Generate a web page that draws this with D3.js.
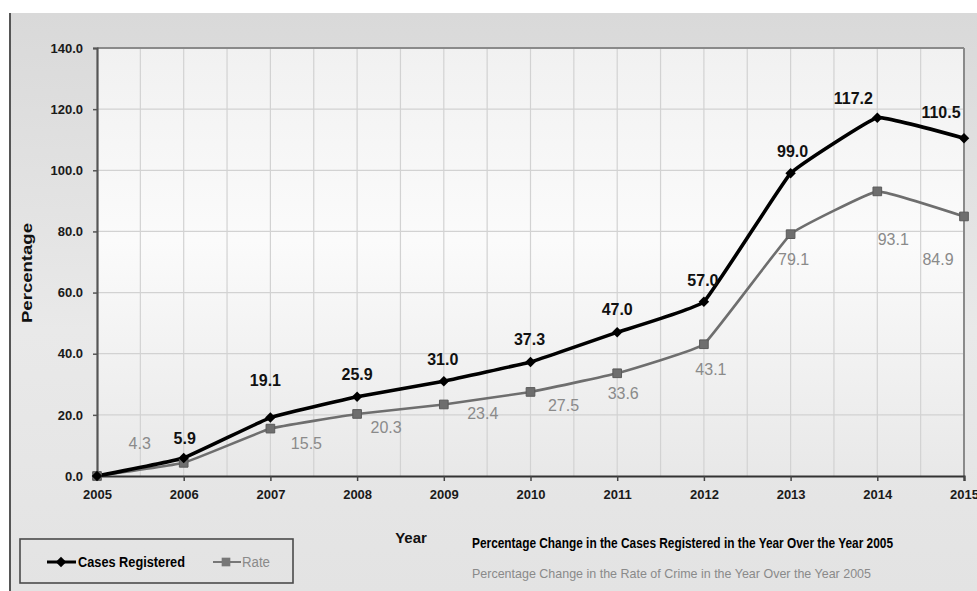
<!DOCTYPE html>
<html>
<head>
<meta charset="utf-8">
<script src="https://cdn.jsdelivr.net/npm/d3@7/dist/d3.min.js"></script>
<style>
  html, body { margin: 0; padding: 0; background: #ffffff; }
  svg { display: block; font-family: "Liberation Sans", Arial, sans-serif; }
</style>
</head>
<body>
<svg id="chart" width="977" height="591"></svg>
<script>
// Percentage change over 2005, by year
const years = [2005, 2006, 2007, 2008, 2009, 2010, 2011, 2012, 2013, 2014, 2015];
const casesRegistered = [0.0, 5.9, 19.1, 25.9, 31.0, 37.3, 47.0, 57.0, 99.0, 117.2, 110.5];
const crimeRate = [0.0, 4.3, 15.5, 20.3, 23.4, 27.5, 33.6, 43.1, 79.1, 93.1, 84.9];
const yTicks = [0, 20, 40, 60, 80, 100, 120, 140];
const seriesNames = ["Cases Registered", "Rate"];
const captions = [
  "Percentage Change in the Cases Registered in the Year Over the Year 2005",
  "Percentage Change in the Rate of Crime in the Year Over the Year 2005"
];

const svg = d3.select("#chart");
const W = 977, H = 591;
const plot = { left: 97, right: 964, top: 48, bottom: 476 };

const x = d3.scaleLinear().domain([2005, 2015]).range([plot.left, plot.right]);
const y = d3.scaleLinear().domain([0, 140]).range([plot.bottom, plot.top]);

// gradients
const defs = svg.append("defs");
const outerGrad = defs.append("linearGradient").attr("id", "outerBg")
  .attr("x1", 0).attr("y1", 0).attr("x2", 0).attr("y2", 1);
outerGrad.append("stop").attr("offset", "0%").attr("stop-color", "#d9d9d9");
outerGrad.append("stop").attr("offset", "55%").attr("stop-color", "#e9e9e9");
outerGrad.append("stop").attr("offset", "100%").attr("stop-color", "#e3e3e3");
const plotGrad = defs.append("linearGradient").attr("id", "plotBg")
  .attr("x1", 0).attr("y1", 0).attr("x2", 0).attr("y2", 1);
plotGrad.append("stop").attr("offset", "0%").attr("stop-color", "#f1f1f1");
plotGrad.append("stop").attr("offset", "45%").attr("stop-color", "#fbfbfb");
plotGrad.append("stop").attr("offset", "100%").attr("stop-color", "#e8e8e8");

// page background
svg.append("rect").attr("x", 0).attr("y", 0).attr("width", W).attr("height", H).attr("fill", "#ffffff");
svg.append("rect").attr("x", 10).attr("y", 13).attr("width", W - 10).attr("height", H - 13)
  .attr("fill", "url(#outerBg)");
svg.append("line").attr("x1", 10).attr("x2", 10).attr("y1", 13).attr("y2", H)
  .attr("stroke", "#555").attr("stroke-width", 2);

// plot area
svg.append("rect")
  .attr("x", plot.left).attr("y", plot.top)
  .attr("width", plot.right - plot.left).attr("height", plot.bottom - plot.top)
  .attr("fill", "url(#plotBg)");

// grid: vertical every half year, horizontal at each tick
const grid = svg.append("g").attr("stroke", "#d2d2d2").attr("stroke-width", 1.2);
d3.range(2005.5, 2015, 0.5).forEach(v => {
  grid.append("line").attr("x1", x(v)).attr("x2", x(v))
    .attr("y1", plot.top).attr("y2", plot.bottom);
});
yTicks.slice(1, -1).forEach(v => {
  grid.append("line").attr("x1", plot.left).attr("x2", plot.right)
    .attr("y1", y(v)).attr("y2", y(v));
});

// frame (top and right)
svg.append("line").attr("x1", plot.left).attr("x2", plot.right)
  .attr("y1", plot.top).attr("y2", plot.top).attr("stroke", "#8a8a8a").attr("stroke-width", 2);
svg.append("line").attr("x1", plot.right).attr("x2", plot.right)
  .attr("y1", plot.top).attr("y2", plot.bottom).attr("stroke", "#8a8a8a").attr("stroke-width", 2);

// y axis
const yAxis = svg.append("g").attr("transform", `translate(${plot.left},0)`)
  .call(d3.axisLeft(y).tickValues(yTicks).tickFormat(d3.format(".1f")).tickSize(4).tickPadding(10));
yAxis.select(".domain").attr("stroke", "#555").attr("stroke-width", 2.2);
yAxis.selectAll(".tick line").attr("stroke", "#555").attr("stroke-width", 1.5);
yAxis.selectAll(".tick text")
  .attr("fill", "#1a1a1a").attr("font-size", 13).attr("font-weight", "bold")
  .attr("font-family", "'Liberation Sans', Arial, sans-serif");

// x axis
const xAxis = svg.append("g").attr("transform", `translate(0,${plot.bottom})`)
  .call(d3.axisBottom(x).tickValues(years).tickFormat(d3.format("d")).tickSize(5).tickPadding(9));
xAxis.select(".domain").attr("stroke", "#333").attr("stroke-width", 2.2);
xAxis.selectAll(".tick line").attr("stroke", "#444").attr("stroke-width", 1.5);
xAxis.selectAll(".tick text")
  .attr("fill", "#1a1a1a").attr("font-size", 13).attr("font-weight", "bold")
  .attr("font-family", "'Liberation Sans', Arial, sans-serif");

// axis titles
svg.append("text")
  .attr("transform", `translate(32,${273}) rotate(-90)`)
  .attr("text-anchor", "middle")
  .attr("font-size", 14).attr("font-weight", "bold").attr("fill", "#111")
  .attr("textLength", 100).attr("lengthAdjust", "spacingAndGlyphs")
  .text("Percentage");
svg.append("text")
  .attr("x", 411).attr("y", 543)
  .attr("text-anchor", "middle")
  .attr("font-size", 15).attr("font-weight", "bold").attr("fill", "#111")
  .text("Year");

// series (lightly smoothed lines)
const pts = (vals) => vals.map((v, i) => [x(years[i]), y(v)]);
const lineGen = d3.line().curve(d3.curveCardinal.tension(0.75));

svg.append("path").datum(pts(crimeRate))
  .attr("d", lineGen).attr("fill", "none")
  .attr("stroke", "#6e6e6e").attr("stroke-width", 2.6);
svg.append("path").datum(pts(casesRegistered))
  .attr("d", lineGen).attr("fill", "none")
  .attr("stroke", "#000").attr("stroke-width", 3.6);

const diamond = d3.symbol().type(d3.symbolDiamond2).size(70);
const square = d3.symbol().type(d3.symbolSquare).size(75);

svg.append("g").selectAll("path").data(pts(crimeRate)).join("path")
  .attr("d", square).attr("transform", d => `translate(${d[0]},${d[1]})`)
  .attr("fill", "#6e6e6e").attr("stroke", "#5a5a5a").attr("stroke-width", 1);
svg.append("g").selectAll("path").data(pts(casesRegistered)).join("path")
  .attr("d", diamond).attr("transform", d => `translate(${d[0]},${d[1]})`)
  .attr("fill", "#000");

// data labels (first point is the 0.0 base year, left unlabeled)
const casesNudge = [null, [1, -20], [-5, -37], [0, -22], [-1, -22], [-1, -23],
  [0, -23], [-1, -21], [2, -22], [-24, -19], [-23, -26]];
const rateNudge = [null, [-44, -19], [36, 15], [29, 13], [39, 9], [33, 13],
  [6, 20], [7, 25], [3, 25], [16, 48], [-26, 43]];

svg.append("g").selectAll("text").data(casesRegistered.map((v, i) => ({ v, i })).filter(d => d.i > 0))
  .join("text")
  .attr("x", d => x(years[d.i]) + casesNudge[d.i][0])
  .attr("y", d => y(d.v) + casesNudge[d.i][1])
  .attr("dy", "0.35em")
  .attr("text-anchor", "middle")
  .attr("font-size", 16).attr("font-weight", "bold").attr("fill", "#111")
  .text(d => d3.format(".1f")(d.v));

svg.append("g").selectAll("text").data(crimeRate.map((v, i) => ({ v, i })).filter(d => d.i > 0))
  .join("text")
  .attr("x", d => x(years[d.i]) + rateNudge[d.i][0])
  .attr("y", d => y(d.v) + rateNudge[d.i][1])
  .attr("dy", "0.35em")
  .attr("text-anchor", "middle")
  .attr("font-size", 16).attr("fill", "#8a8a8a")
  .text(d => d3.format(".1f")(d.v));

// legend
const lg = svg.append("g");
lg.append("rect").attr("x", 20).attr("y", 539).attr("width", 273).attr("height", 44)
  .attr("fill", "none").attr("stroke", "#4a4a4a").attr("stroke-width", 1.6);
lg.append("line").attr("x1", 47).attr("x2", 76).attr("y1", 562).attr("y2", 562)
  .attr("stroke", "#000").attr("stroke-width", 3);
lg.append("path").attr("d", diamond).attr("transform", "translate(61,562)").attr("fill", "#000");
lg.append("text").attr("x", 78).attr("y", 567)
  .attr("font-size", 14).attr("font-weight", "bold").attr("fill", "#000")
  .attr("textLength", 107).attr("lengthAdjust", "spacingAndGlyphs")
  .text(seriesNames[0]);
lg.append("line").attr("x1", 213).attr("x2", 241).attr("y1", 562).attr("y2", 562)
  .attr("stroke", "#777").attr("stroke-width", 2);
lg.append("path").attr("d", square).attr("transform", "translate(226,562)").attr("fill", "#777");
lg.append("text").attr("x", 242).attr("y", 567)
  .attr("font-size", 14).attr("fill", "#8a8a8a")
  .attr("textLength", 28).attr("lengthAdjust", "spacingAndGlyphs")
  .text(seriesNames[1]);

// captions
svg.append("text").attr("x", 472).attr("y", 548)
  .attr("font-size", 14).attr("font-weight", "bold").attr("fill", "#000")
  .attr("textLength", 421).attr("lengthAdjust", "spacingAndGlyphs")
  .text(captions[0]);
svg.append("text").attr("x", 472).attr("y", 578)
  .attr("font-size", 13).attr("fill", "#8a8a8a")
  .attr("textLength", 399).attr("lengthAdjust", "spacingAndGlyphs")
  .text(captions[1]);
</script>
</body>
</html>
